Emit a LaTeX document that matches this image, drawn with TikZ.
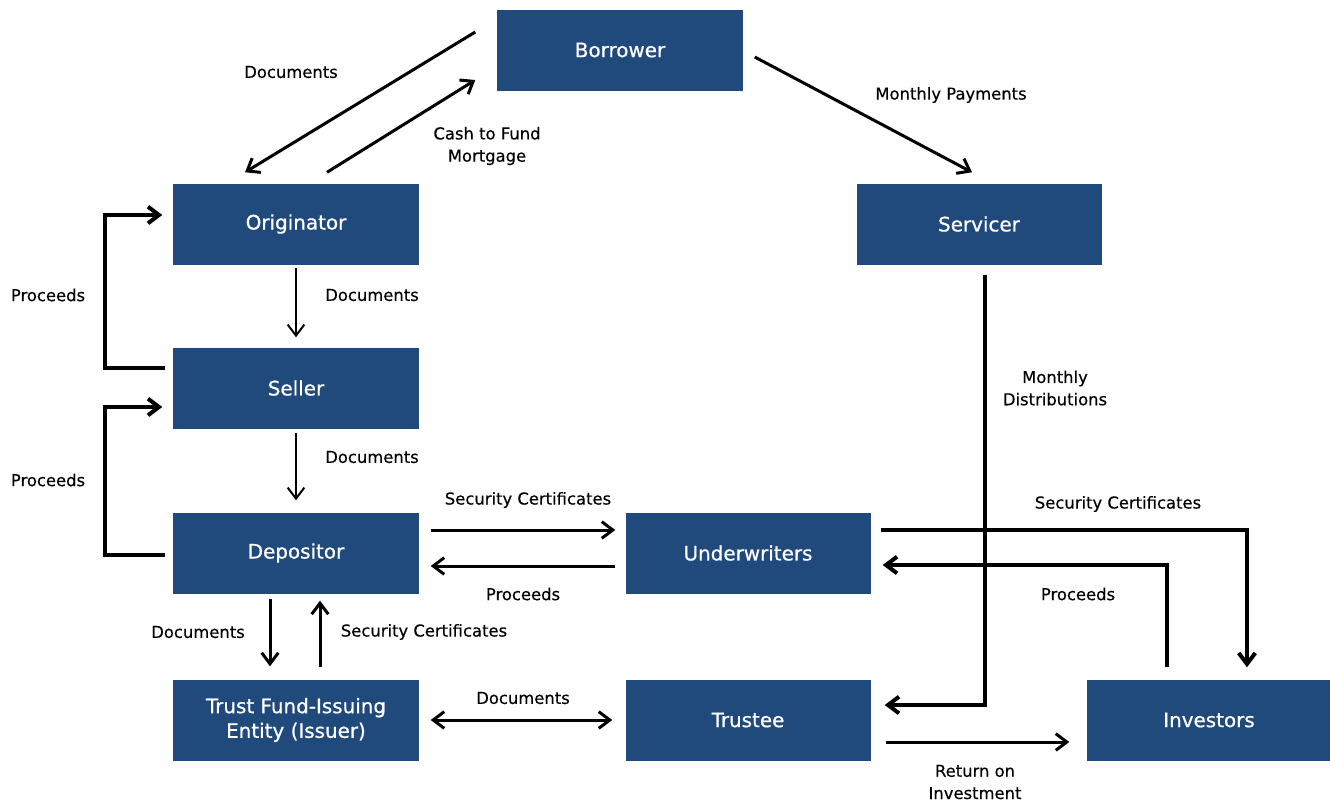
\documentclass[tikz,border=0pt]{standalone}
\usepackage{fontspec}
\setmainfont{DejaVu Sans}
\newfontfamily\boxfont[FakeBold=0.7]{DejaVu Sans}
\newfontfamily\lblfont[FakeBold=0.3]{DejaVu Sans}
\usepackage{xcolor}
\usepackage{tikz}
\usetikzlibrary{arrows.meta, positioning, calc}
\definecolor{mbsblue}{RGB}{32,73,124}

\begin{document}
\begin{tikzpicture}[x=0.03cm, y=-0.03cm,
    >={Straight Barb[length=0.33cm, width=0.5cm]},
    entity/.style={rectangle, fill=mbsblue, text=white, minimum width=7.35cm,
        minimum height=2.43cm, inner sep=0pt, align=center,
        font=\boxfont\fontsize{17}{21}\selectfont},
    lbl/.style={align=center, font=\lblfont\fontsize{14}{19}\selectfont},
    flow/.style={->, line width=0.09cm},
    thinflow/.style={->, line width=0.06cm},
    loopflow/.style={->, line width=0.12cm}]
\useasboundingbox (0,0) rectangle (1330,801);

% Draw boxes
\foreach \n/\x/\y/\t in {borrower/620/50/Borrower, originator/296/224/Originator,
    servicer/979/224/Servicer, seller/296/388/Seller, depositor/296/553/Depositor,
    underwriters/748/553/Underwriters, trust/296/720/{Trust Fund-Issuing\\Entity (Issuer)},
    trustee/748/720/Trustee, investors/1209/720/Investors} {
    \node[entity] (\n) at (\x,\y) {\t};
}

% Borrower, originator, servicer
\draw[flow] ($(borrower.west)+(-22,-18)$) -- ($(originator.north)+(-51,-11)$);
\draw[flow] ($(originator.north)+(31,-11)$) -- ($(borrower.west)+(-22,30)$);
\draw[flow] ($(borrower.east)+(12,7)$) -- ($(servicer.north)+(-7,-11)$);

% Down the left column
\draw[thinflow, shorten <=0.09cm, shorten >=0.3cm] (originator.south) -- (seller.north);
\draw[thinflow, shorten <=0.12cm, shorten >=0.36cm] (seller.south) -- (depositor.north);
\draw[loopflow] ($(seller.west)+(-8,-20)$) -- ++(-60,0) |- ($(originator.west)+(-11,-9)$);
\draw[loopflow] ($(depositor.west)+(-8,2)$) -- ++(-60,0) |- ($(seller.west)+(-11,19)$);

% Depositor and trust
\draw[flow] ($(depositor.east)+(12,-23)$) -- ($(underwriters.west)+(-10,-23)$);
\draw[flow] ($(underwriters.west)+(-10,13)$) -- ($(depositor.east)+(12,13)$);
\draw[flow] ($(depositor.south)+(-26,5)$) -- ($(trust.north)+(-26,-13)$);
\draw[flow] ($(trust.north)+(24,-12)$) -- ($(depositor.south)+(24,7)$);
\draw[flow, <->, shorten <=0.36cm, shorten >=0.39cm] (trust.east) -- (trustee.west);

% Right side
\draw[loopflow] ($(servicer.south)+(6,10)$) |- ($(trustee.east)+(14,-15)$);
\draw[loopflow] ($(underwriters.east)+(10,-23)$) -| ($(investors.north)+(38,-12)$);
\draw[loopflow] ($(investors.north)+(-42,-12)$) |- ($(underwriters.east)+(12,12)$);
\draw[flow] ($(trustee.east)+(15,22)$) -- ($(investors.west)+(-17,22)$);

% Labels
\node[lbl] (l1) at (291,72) {Documents};
\node[lbl] (l2) at (487,146) {Cash to Fund\\Mortgage};
\node[lbl] (l3) at (951,95) {Monthly Payments};
\node[lbl] (l4) at (372,295) {Documents};
\node[lbl] (l5) at (48,295) {Proceeds};
\node[lbl] (l6) at (372,457) {Documents};
\node[lbl] (l7) at (48,480) {Proceeds};
\node[lbl] (l8) at (528,500) {Security Certificates};
\node[lbl] (l9) at (523,594) {Proceeds};
\node[lbl] (l10) at (198,632) {Documents};
\node[lbl] (l11) at (424,632) {Security Certificates};
\node[lbl] (l12) at (1055,388) {Monthly\\Distributions};
\node[lbl] (l13) at (1118,504) {Security Certificates};
\node[lbl] (l14) at (1078,594) {Proceeds};
\node[lbl] (l15) at (523,698) {Documents};
\node[lbl] (l16) at (975,782) {Return on\\Investment};
\end{tikzpicture}
\end{document}
